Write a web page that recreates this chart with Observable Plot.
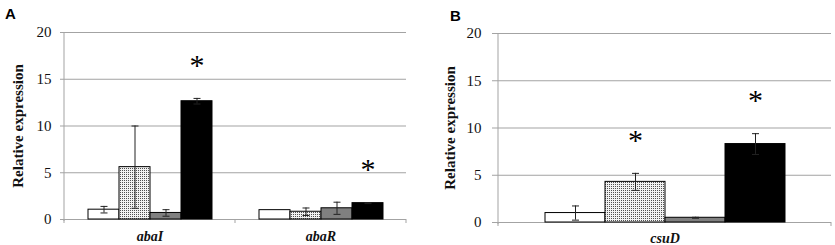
<!DOCTYPE html>
<html><head><meta charset="utf-8">
<script src="https://cdn.jsdelivr.net/npm/d3@7"></script>
<script src="https://cdn.jsdelivr.net/npm/@observablehq/plot@0.6"></script>
<style>
body{margin:0;background:#fff;}
#wrap{position:relative;width:835px;height:245px;overflow:hidden;background:#fff;}
.panel{position:absolute;top:0;}
.letter{position:absolute;font:bold 15px Arial,"Liberation Sans",sans-serif;line-height:15px;color:#000;}
</style></head><body>
<svg width="0" height="0" style="position:absolute">
  <defs>
    <pattern id="stipple" x="0" y="0" width="2" height="2" patternUnits="userSpaceOnUse">
      <rect width="2" height="2" fill="#f2f2f2"/>
      <rect x="0" y="0" width="1" height="1" fill="#505050"/>
    </pattern>
  </defs>
</svg>
<div id="wrap">
  <div id="pa" class="panel" style="left:0px"></div>
  <div id="pb" class="panel" style="left:415px"></div>
  <div class="letter" style="left:5px;top:6px">A</div>
  <div class="letter" style="left:450px;top:8px">B</div>
</div>
<script>
const conditions = ["C1", "C2", "C3", "C4"];
const fillColors = ["#ffffff", "url(#stipple)", "#808080", "#000000"];
const yTicks = [0, 5, 10, 15, 20];
const yLabel = "Relative expression";

const genesA = ["abaI", "abaR"];
const abaI_values = [1.05, 5.6, 0.7, 12.65];
const abaI_errors = [0.35, 4.4, 0.35, 0.3];
const abaI_signif = [false, false, false, true];
const abaR_values = [1.0, 0.83, 1.2, 1.75];
const abaR_errors = [0.0, 0.4, 0.65, 0.05];
const abaR_signif = [false, false, false, true];

const genesB = ["csuD"];
const csuD_values = [1.0, 4.3, 0.5, 8.3];
const csuD_errors = [0.75, 0.9, 0.05, 1.1];
const csuD_signif = [false, true, false, true];

function rowsFor(gene, values, errors, signif) {
  return conditions.map((c, i) => ({gene, cond: c, v: values[i], e: errors[i], sig: signif[i]}));
}
const dataA = [...rowsFor("abaI", abaI_values, abaI_errors, abaI_signif),
               ...rowsFor("abaR", abaR_values, abaR_errors, abaR_signif)];
const dataB = rowsFor("csuD", csuD_values, csuD_errors, csuD_signif);

const cap = {draw(ctx) { ctx.moveTo(-3.5, 0); ctx.lineTo(3.5, 0); }};
const serif = '"Liberation Serif","Times New Roman",serif';
const axisGray = "#a3a3a3";

function panel(el, genes, data, o) {
  const plot = Plot.plot({
    width: o.width, height: 245,
    marginLeft: o.ml, marginRight: o.mr, marginTop: o.mt, marginBottom: o.mb,
    style: {fontFamily: serif, fontSize: "15px", color: "#111", background: "white", overflow: "visible"},
    fx: {domain: genes, padding: 0, label: null},
    x: {domain: conditions, paddingInner: 0, paddingOuter: 0.75, axis: null},
    y: {domain: [0, 20]},
    color: {domain: conditions, range: fillColors},
    marks: [
      Plot.gridY(yTicks, {stroke: axisGray, strokeOpacity: 1}),
      Plot.axisY(yTicks, {tickSize: o.tickSize, tickPadding: o.tickPadding, stroke: axisGray,
        fill: "#111", fontFamily: serif, fontSize: 15, label: yLabel, labelAnchor: "center",
        labelOffset: o.labelOffset, labelArrow: "none"}),
      Plot.axisFx({anchor: "bottom", tickSize: 0, tickPadding: o.fxPad, fontSize: 14, fontFamily: serif,
        fontStyle: "italic", fontWeight: "bold", fill: "#111", label: null}),
      Plot.barY(data, {fx: "gene", x: "cond", y: "v", fill: "cond", stroke: "#000", strokeWidth: 1}),
      Plot.ruleX(data.filter(d => d.e > 0), {fx: "gene", x: "cond", y1: d => d.v - d.e, y2: d => d.v + d.e, stroke: "#222", strokeWidth: 1}),
      Plot.dot(data.filter(d => d.e > 0), {fx: "gene", x: "cond", y: d => d.v - d.e, symbol: cap, r: 3, fill: "none", stroke: "#222", strokeWidth: 1}),
      Plot.dot(data.filter(d => d.e > 0), {fx: "gene", x: "cond", y: d => d.v + d.e, symbol: cap, r: 3, fill: "none", stroke: "#222", strokeWidth: 1}),
      Plot.text(data.filter(d => d.sig), {fx: "gene", x: "cond", y: d => d.v + d.e, text: () => "*",
        dy: -33, fontSize: 30, fontFamily: serif, fill: "#000"})
    ]
  });
  const svg = d3.select(plot);
  svg.selectAll('[aria-label="y-axis label"] text').attr("font-weight", "bold").attr("font-size", 15);
  const fx = plot.scale("fx");
  const ys = plot.scale("y");
  const y0 = ys.apply(0), yTop = ys.apply(20);
  const edges = new Set();
  genes.forEach(g => { const s = fx.apply(g); edges.add(s); edges.add(s + fx.bandwidth); });
  const g = svg.append("g").attr("stroke", axisGray).attr("fill", "none");
  const xLeft = fx.apply(genes[0]);
  g.append("line").attr("x1", xLeft).attr("x2", xLeft).attr("y1", yTop).attr("y2", y0 + 2);
  for (const xe of edges) {
    g.append("line").attr("x1", xe).attr("x2", xe).attr("y1", y0).attr("y2", y0 + 4);
  }
  el.appendChild(plot);
}

panel(document.getElementById("pa"), genesA, dataA,
  {width: 415, ml: 64, mr: 9, mt: 32, mb: 26, tickSize: 4, tickPadding: 9, labelOffset: 52, fxPad: 12});
panel(document.getElementById("pb"), genesB, dataB,
  {width: 420, ml: 83, mr: 4, mt: 33, mb: 23, tickSize: 6, tickPadding: 11, labelOffset: 54, fxPad: 11});
</script>
</body></html>
